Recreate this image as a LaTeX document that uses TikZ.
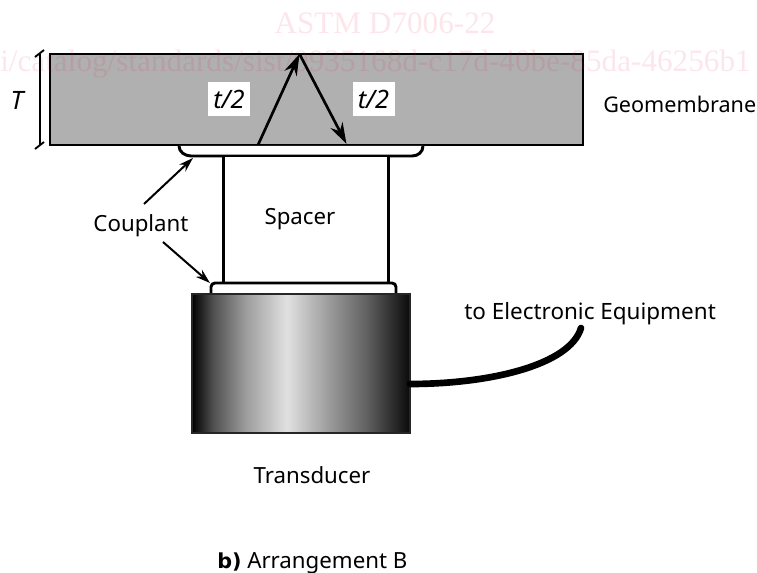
\documentclass[tikz,border=0pt]{standalone}
\usepackage{fontspec}
\setmainfont{Noto Sans}
\newfontfamily\wmfont{Liberation Serif}
\newfontfamily\boldlbl{DejaVu Sans Bold}
\usetikzlibrary{arrows.meta}
\definecolor{wmpink}{rgb}{0.9,0.1,0.3}
\pgfdeclarehorizontalshading{transshade}{100bp}{
  color(0bp)=(black);
  color(25bp)=(black);
  color(30bp)=(black!68);
  color(37.5bp)=(black!38);
  color(46.75bp)=(black!12);
  color(56bp)=(black!38);
  color(65bp)=(black!62);
  color(75bp)=(black!96);
  color(100bp)=(black!96)}
\tikzset{
  x=0.75pt,y=-0.75pt,
  plate/.style={draw=black,line width=2.2pt},
  thin plate/.style={draw=black,line width=2.2pt,fill=white},
  lbl/.style={inner sep=0pt,font=\fontsize{16.7pt}{20pt}\selectfont,text=black},
  whitelbl/.style={fill=white,inner sep=0pt,minimum width=31.5pt,minimum height=25.5pt,font=\fontsize{19pt}{20pt}\selectfont\itshape},
  ray/.style={line width=2pt,-{Stealth[length=16pt,width=10pt]}},
  lead/.style={line width=1.5pt,-{Stealth[length=11pt,width=7pt]}},
  wm/.style={inner sep=0pt,text=wmpink,text opacity=0.11,font=\wmfont\fontsize{23.4pt}{26pt}\selectfont},
}
\begin{document}
\begin{tikzpicture}
\useasboundingbox (0,0) rectangle (757,573);
% geomembrane
\draw[plate,fill=black!31] (50,54) rectangle (583,145);
% couplant, spacer
\draw[thin plate] (179,146) .. controls (179,152) and (185,156) .. (191,156) -- (412,156) .. controls (418,156) and (423,152) .. (423,146);
\draw[thin plate] (223.5,156) rectangle (388.5,283);
\draw[thin plate,rounded corners=3pt] (211,294) -- (211,283) -- (396,283) -- (396,294);
% transducer
\path[shading=transshade] (192,294) rectangle (410,433);
\draw[line width=1.4pt,black!85] (192,294) rectangle (410,433);
% watermark
\begin{scope}
\clip (0,0) rectangle (757,573);
\node[wm,anchor=base] (wma) at (385,34) {ASTM D7006-22};
\node[wm,anchor=base west] (wmb) at (0,72) {i/catalog/standards/sist/0935168d-c17d-40be-85da-46256b1};
\end{scope}
% dimension
\coordinate (dimtop) at (40,54);
\coordinate (dimbot) at (40,145);
\draw[line width=1.4pt] (dimtop) -- (dimbot);
\draw[line width=1.4pt] (35,57) -- (44,50);
\draw[line width=1.4pt] (35,149) -- (44,142);
\node[lbl,font=\fontsize{19pt}{20pt}\selectfont\itshape] (T) at (17,100) {T};
% labels in the plate
\node[whitelbl] (ta) at (229,99) {t/2};
\node[whitelbl] (tb) at (373.5,99) {t/2};
% rays
\coordinate (r0) at (258,145);
\coordinate (r1) at (299.5,54);
\coordinate (r2) at (346.5,144);
\draw[ray] (r0) -- (r1);
\draw[ray] (r1) -- (r2);
% texts
\node[lbl,anchor=west,font=\fontsize{16.2pt}{20pt}\selectfont] (geo) at (603,104) {Geomembrane};
\node[lbl] (coup) at (141,226) {Couplant};
\node[lbl] (spacer) at (300,219) {Spacer};
\node[lbl,anchor=west,font=\fontsize{16.85pt}{20pt}\selectfont] (elec) at (464,314) {to Electronic Equipment};
\node[lbl] (trans) at (312,475) {Transducer};
\node[lbl,anchor=west] (cap) at (217,563) {{\boldlbl\fontsize{15.5pt}{20pt}\selectfont b)} Arrangement B};
% leaders
\coordinate (c1) at (193,158);
\coordinate (c2) at (210,283);
\draw[lead] (144,204) -- (c1);
\draw[lead] (163,242) -- (c2);
% cable
\coordinate (cabA) at (410,384);
\coordinate (cabB) at (581,328);
\draw[line width=5pt,line cap=round] (cabA) .. controls (490,384) and (570,365) .. (cabB);
\end{tikzpicture}
\end{document}
